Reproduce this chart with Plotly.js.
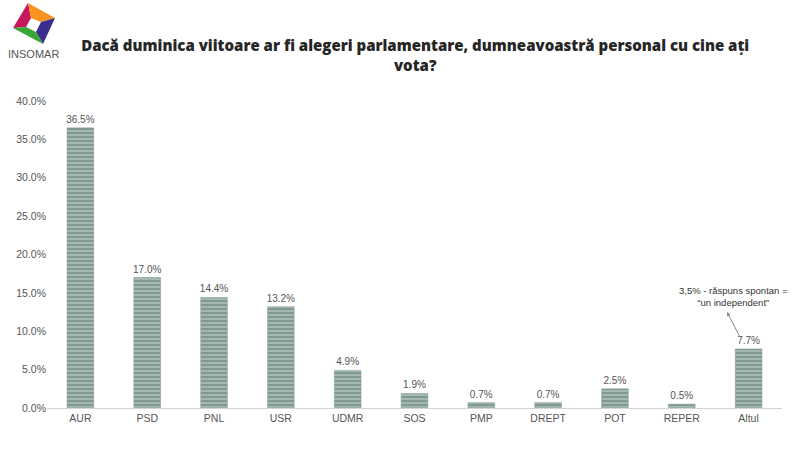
<!DOCTYPE html>
<html>
<head>
<meta charset="utf-8">
<script src="https://cdn.plot.ly/plotly-3.0.1.min.js"></script>
<style>
  body { margin: 0; background: #fff; }
  #chart { width: 800px; height: 455px; }
</style>
</head>
<body>
<div id="chart"></div>
<script>
// poll results, % of respondents
const parties = ['AUR', 'PSD', 'PNL', 'USR', 'UDMR', 'SOS', 'PMP', 'DREPT', 'POT', 'REPER', 'Altul'];
const shares = [36.5, 17.0, 14.4, 13.2, 4.9, 1.9, 0.7, 0.7, 2.5, 0.5, 7.7];
const yTicks = [0, 5, 10, 15, 20, 25, 30, 35, 40];

// plot area in pixels, used to place the logo shapes
const L = 47, R = 782, T = 101, B = 408;
function px(x) { return (x - L) / (R - L); }
function py(y) { return (B - y) / (B - T); }
function poly(pts) {
  return 'M' + pts.map(p => px(p[0]) + ',' + py(p[1])).join(' L') + ' Z';
}

// logo: four coloured blades round a white hole
const outer = [[13, 28], [28, 3], [55, 18], [43, 44]];
const inner = [[26, 27], [31, 18], [41, 22], [36, 32]];
const bladeColors = ['#c8175d', '#f7931e', '#3a2f8f', '#3aa635'];
let shapes = [];
for (let i = 0; i < 4; i++) {
  let j = (i + 1) % 4;
  shapes.push({
    type: 'path', xref: 'paper', yref: 'paper',
    path: poly([outer[i], outer[j], inner[j], inner[i]]),
    fillcolor: bladeColors[i], line: {width: 0}
  });
}

var trace = {
  x: parties,
  y: shares,
  type: 'bar',
  width: 0.4,
  text: shares.map(v => v.toFixed(1) + '%'),
  textposition: 'outside',
  constraintext: 'none',
  cliponaxis: false,
  textfont: {family: 'Liberation Sans, Arial, sans-serif', size: 10, color: '#555'},
  marker: {
    color: '#809a91',
    line: {color: '#809a91', width: 0.5},
    pattern: {shape: '-', fillmode: 'overlay', fgcolor: '#dbe7e2', size: 4, solidity: 0.4}
  },
  hoverinfo: 'x+y'
};

var layout = {
  width: 800,
  height: 455,
  margin: {l: L, r: 800 - R, t: T, b: 455 - B},
  paper_bgcolor: '#fff',
  plot_bgcolor: '#fff',
  font: {family: 'Liberation Sans, Arial, sans-serif', size: 10, color: '#555'},
  showlegend: false,
  title: {
    text: 'Dacă duminica viitoare ar fi alegeri parlamentare, dumneavoastră personal cu cine ați<br>vota?',
    font: {family: 'Open Sans, sans-serif', size: 15, color: '#262626', weight: 800},
    x: 0.519, xanchor: 'center',
    yref: 'container', y: 1 - 51 / 455, yanchor: 'middle'
  },
  xaxis: {
    type: 'category',
    showgrid: false,
    showline: true,
    linecolor: '#d4d4d4',
    linewidth: 1,
    ticks: '',
    tickfont: {size: 10.5, color: '#555'}
  },
  yaxis: {
    range: [0, 40],
    tickvals: yTicks,
    ticktext: yTicks.map(v => v.toFixed(1) + '%'),
    showgrid: false,
    zeroline: false,
    showline: false,
    ticks: '',
    tickfont: {size: 10.5, color: '#555'}
  },
  shapes: shapes,
  annotations: [
    {
      xref: 'paper', yref: 'paper', x: px(33), y: py(54),
      xanchor: 'center', yanchor: 'middle',
      text: 'INSOMAR', showarrow: false,
      font: {family: 'Liberation Sans, Arial, sans-serif', size: 11, color: '#555'}
    },
    {
      xref: 'paper', yref: 'paper', x: px(733), y: py(296),
      xanchor: 'center', yanchor: 'middle',
      text: '3,5% - răspuns spontan =<br>“un independent”',
      showarrow: false, align: 'center',
      font: {size: 9.5, color: '#333'}
    },
    {
      xref: 'paper', yref: 'paper', x: px(727), y: py(312),
      ax: 14, ay: 27, text: '',
      showarrow: true, arrowhead: 2, arrowsize: 0.8, arrowwidth: 1,
      arrowcolor: '#8a8a8a'
    }
  ]
};

Plotly.newPlot('chart', [trace], layout, {displayModeBar: false});
</script>
</body>
</html>
